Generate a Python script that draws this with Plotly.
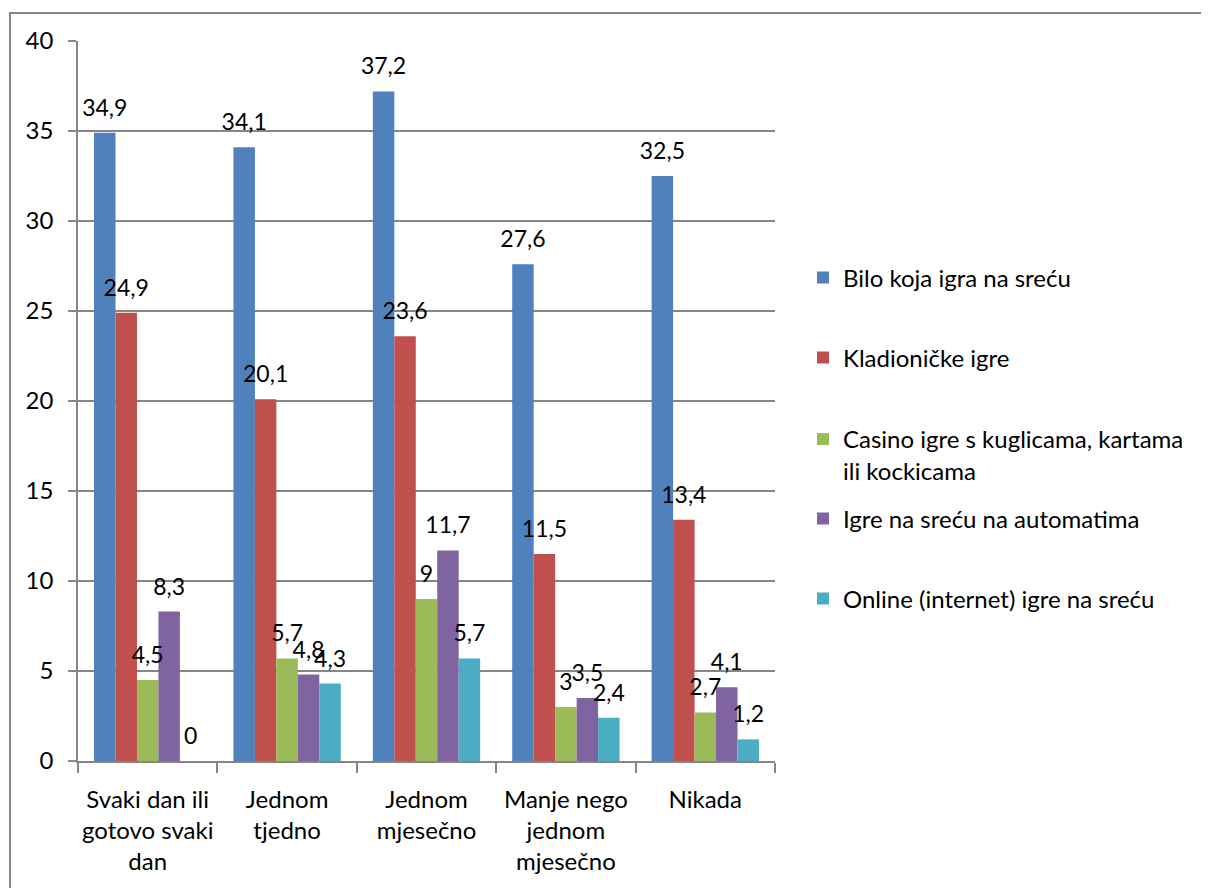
import plotly.graph_objects as go

categories = ["Svaki dan ili<br>gotovo svaki<br>dan", "Jednom<br>tjedno", "Jednom<br>mjesečno",
              "Manje nego<br>jednom<br>mjesečno", "Nikada"]
series_names = ["Bilo koja igra na sreću", "Kladioničke igre",
                "Casino igre s kuglicama, kartama<br>ili kockicama",
                "Igre na sreću na automatima", "Online (internet) igre na sreću"]
bilo = [34.9, 34.1, 37.2, 27.6, 32.5]
kladio = [24.9, 20.1, 23.6, 11.5, 13.4]
casino = [4.5, 5.7, 9, 3, 2.7]
automati = [8.3, 4.8, 11.7, 3.5, 4.1]
online = [0, 4.3, 5.7, 2.4, 1.2]
y_ticks = [0, 5, 10, 15, 20, 25, 30, 35, 40]

series = [bilo, kladio, casino, automati, online]
colors = ["#4F81BD", "#C0504D", "#9BBB59", "#8064A2", "#4BACC6"]

FONT = "Lato"
FS = 24
FS_LAB = 23
OFF = 8  # page body margin offset
W, H = 1209 - OFF, 888 - OFF
L, R, T, B = 78 - OFF, 434, 41 - OFF, 127
pw, ph = W - L - R, H - T - B


def px_x(x):
    return (x - OFF - L) / pw


def px_y(y):
    return (H - B - (y - OFF)) / ph


def fmt(v):
    s = ("%g" % v)
    return s.replace(".", ",")


legend_names = ["legend", "legend2", "legend3", "legend4", "legend5"]
legend_y = [278, 358, 455, 519, 599]

fig = go.Figure()
for i, (vals, name, col) in enumerate(zip(series, series_names, colors)):
    fig.add_trace(go.Bar(
        x=categories, y=vals, name=name, marker=dict(color=col, line=dict(width=0)),
        legend=legend_names[i], xaxis="x", yaxis="y", hoverinfo="x+y+name"))
# label layer (same values, on an overlaid axis shifted slightly for label padding)
for i, vals in enumerate(series):
    fig.add_trace(go.Bar(
        x=categories, y=vals, text=[fmt(v) for v in vals], textposition="outside",
        textfont=dict(family=FONT, size=FS_LAB, color="#000000"), constraintext="none",
        cliponaxis=False, marker=dict(color="rgba(0,0,0,0)", line=dict(width=0)),
        showlegend=False, hoverinfo="skip", xaxis="x", yaxis="y2"))

layout = dict(
    width=W, height=H,
    margin=dict(l=L, r=R, t=T, b=B, pad=0, autoexpand=False),
    paper_bgcolor="white", plot_bgcolor="white",
    barmode="group", bargap=0.23, bargroupgap=0,
    font=dict(family=FONT, size=FS, color="#000000"),
    xaxis=dict(type="category", showgrid=False, showline=True, linecolor="#868686", linewidth=1.5,
               ticks="outside", ticklen=10, tickcolor="#868686", tickwidth=1.5,
               tickson="boundaries", ticklabelstandoff=16, tickangle=0, automargin=False,
               tickfont=dict(family=FONT, size=FS, color="#000000")),
    yaxis=dict(range=[0, 40], tickvals=y_ticks, showgrid=True, gridcolor="#868686", gridwidth=1.5,
               showline=True, linecolor="#868686", linewidth=1.5, ticks="outside", ticklen=8,
               tickcolor="#868686", tickwidth=1.5, zeroline=False, ticklabelstandoff=10,
               automargin=False,
               tickfont=dict(family=FONT, size=FS, color="#000000")),
    yaxis2=dict(range=[-0.5, 39.5], overlaying="y", visible=False, showgrid=False),
    shapes=[dict(type="rect", xref="paper", yref="paper",
                 x0=px_x(10), x1=px_x(1240), y0=px_y(920), y1=px_y(13),
                 line=dict(color="#868686", width=2), layer="below")],
)
for i, ln in enumerate(legend_names):
    layout[ln] = dict(x=px_x(803), xanchor="left", y=px_y(legend_y[i]), yanchor="middle",
                      bgcolor="rgba(0,0,0,0)", borderwidth=0,
                      font=dict(family=FONT, size=FS, color="#000000"),
                      valign="top")
fig.update_layout(**layout)

fig.write_html("out.html")
